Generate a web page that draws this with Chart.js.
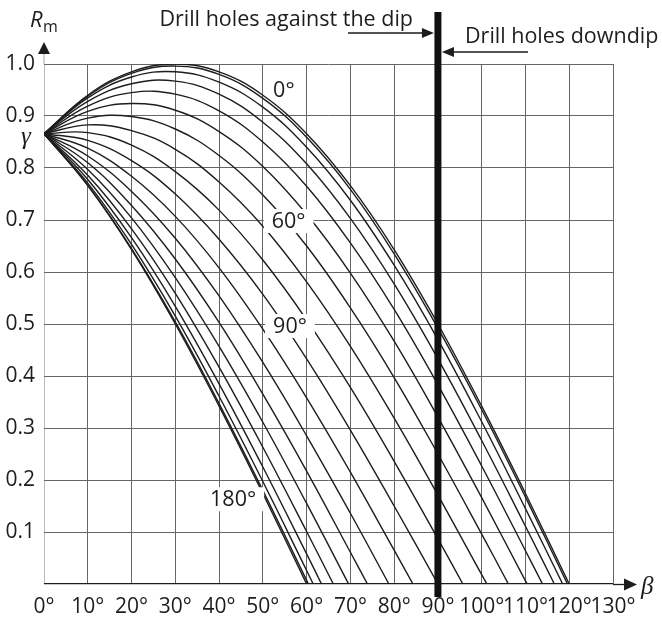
<!DOCTYPE html>
<html>
<head>
<meta charset="utf-8">
<script src="https://cdn.jsdelivr.net/npm/chart.js"></script>
<style>
  html, body { margin: 0; padding: 0; background: #fff; }
  #wrap { width: 662px; height: 626px; }
</style>
</head>
<body>
<div id="wrap"><canvas id="myChart" width="662" height="626"></canvas></div>
<script>
// beta (deg) sample points, curve parameter (deg) and Rm
const betas = [0, 10, 20, 30, 40, 50, 60, 70, 80, 90, 100, 110];
const alphas = [0, 10, 20, 30, 40, 50, 60, 70, 80, 90, 100, 110, 120, 130, 140, 150, 160, 170, 180];

const rm0   = [0.866, 0.940, 0.985, 1.000, 0.985, 0.940, 0.866, 0.766, 0.643, 0.500, 0.342, 0.174];
const rm10  = [0.866, 0.938, 0.982, 0.996, 0.980, 0.934, 0.859, 0.759, 0.635, 0.492, 0.335, 0.167];
const rm20  = [0.866, 0.935, 0.975, 0.985, 0.965, 0.917, 0.840, 0.738, 0.613, 0.470, 0.312, 0.145];
const rm30  = [0.866, 0.928, 0.962, 0.967, 0.942, 0.888, 0.808, 0.703, 0.577, 0.433, 0.276, 0.111];
const rm40  = [0.866, 0.919, 0.945, 0.942, 0.910, 0.850, 0.765, 0.656, 0.528, 0.383, 0.227, 0.064];
const rm50  = [0.866, 0.909, 0.924, 0.911, 0.870, 0.803, 0.711, 0.598, 0.467, 0.321, 0.166, 0.006];
const rm60  = [0.866, 0.896, 0.899, 0.875, 0.824, 0.748, 0.650, 0.531, 0.397, 0.250, 0.096];
const rm70  = [0.866, 0.883, 0.872, 0.836, 0.773, 0.688, 0.581, 0.457, 0.319, 0.171, 0.018];
const rm80  = [0.866, 0.868, 0.844, 0.793, 0.719, 0.623, 0.508, 0.378, 0.236, 0.087];
const rm90  = [0.866, 0.853, 0.814, 0.750, 0.663, 0.557, 0.433, 0.296, 0.150];
const rm100 = [0.866, 0.838, 0.784, 0.707, 0.608, 0.490, 0.358, 0.215, 0.065];
const rm110 = [0.866, 0.823, 0.755, 0.665, 0.554, 0.426, 0.285, 0.136];
const rm120 = [0.866, 0.810, 0.728, 0.625, 0.503, 0.365, 0.217, 0.061];
const rm130 = [0.866, 0.797, 0.704, 0.589, 0.457, 0.311, 0.155];
const rm140 = [0.866, 0.786, 0.683, 0.559, 0.417, 0.263, 0.101];
const rm150 = [0.866, 0.778, 0.666, 0.534, 0.385, 0.225, 0.058];
const rm160 = [0.866, 0.771, 0.653, 0.515, 0.361, 0.197, 0.026];
const rm170 = [0.866, 0.767, 0.645, 0.504, 0.347, 0.180, 0.007];
const rm180 = [0.866, 0.766, 0.643, 0.500, 0.342, 0.174];

// where each curve meets Rm = 0
const zeroCrossings = [120, 119.6, 118.5, 116.6, 113.9, 110.4, 106.1, 101.2, 95.7, 90,
                       84.3, 78.8, 73.9, 69.6, 66.1, 63.4, 61.5, 60.4, 60];

const curves = [rm0, rm10, rm20, rm30, rm40, rm50, rm60, rm70, rm80, rm90,
                rm100, rm110, rm120, rm130, rm140, rm150, rm160, rm170, rm180];

const gammaValue = 0.866;
const boundaryBeta = 90;
const xTicks = [0, 10, 20, 30, 40, 50, 60, 70, 80, 90, 100, 110, 120, 130];

const FONT = "'Open Sans', sans-serif";
const INK = '#1e1c1d';

const datasets = curves.map((vals, i) => {
    const pts = vals.map((v, j) => ({ x: betas[j], y: v }));
    pts.push({ x: zeroCrossings[i], y: 0 });
    return {
        label: alphas[i] + '°',
        data: pts,
        borderColor: INK,
        borderWidth: 1.4,
        pointRadius: 0,
        tension: 0.4,
        fill: false,
    };
});

// thick boundary line at beta = 90
datasets.unshift({
    label: 'boundary',
    data: [{ x: boundaryBeta, y: -0.025 }, { x: boundaryBeta, y: 1.1 }],
    borderColor: '#111',
    borderWidth: 7,
    pointRadius: 0,
    clip: false,
});

function arrowHead(ctx, tipX, tipY, dir, len, half) {
    ctx.beginPath();
    if (dir === 'up') {
        ctx.moveTo(tipX, tipY); ctx.lineTo(tipX - half, tipY + len); ctx.lineTo(tipX + half, tipY + len);
    } else if (dir === 'right') {
        ctx.moveTo(tipX, tipY); ctx.lineTo(tipX - len, tipY - half); ctx.lineTo(tipX - len, tipY + half);
    } else {
        ctx.moveTo(tipX, tipY); ctx.lineTo(tipX + len, tipY - half); ctx.lineTo(tipX + len, tipY + half);
    }
    ctx.closePath();
    ctx.fill();
}

const extras = {
    id: 'extras',
    afterDraw(chart) {
        const { ctx, chartArea: a, scales: { x, y } } = chart;
        ctx.save();
        ctx.fillStyle = INK;
        ctx.strokeStyle = INK;

        // axis extensions with arrows
        ctx.lineWidth = 1.3;
        ctx.beginPath();
        ctx.moveTo(a.right, a.bottom + 0.5); ctx.lineTo(626, a.bottom + 0.5);
        ctx.stroke();
        arrowHead(ctx, 637, a.bottom + 0.5, 'right', 13, 6);
        ctx.strokeStyle = '#bbb';
        ctx.beginPath();
        ctx.moveTo(a.left, a.top); ctx.lineTo(a.left, 54);
        ctx.stroke();
        arrowHead(ctx, a.left, 42, 'up', 12, 6);

        // axis names
        ctx.textBaseline = 'alphabetic';
        ctx.textAlign = 'left';
        ctx.font = 'italic 22px ' + FONT;
        ctx.fillText('R', 30, 27);
        ctx.font = '16px ' + FONT;
        ctx.fillText('m', 43, 32);
        ctx.font = "italic 25px 'Liberation Serif', serif";
        ctx.fillText('β', 641, 594);
        ctx.fillText('γ', y.getPixelForValue(gammaValue) > 0 ? 21 : 21, 144);

        // drill hole annotations
        const bx = x.getPixelForValue(boundaryBeta);
        ctx.font = '21.5px ' + FONT;
        ctx.textAlign = 'right';
        ctx.fillText('Drill holes against the dip', 413, 26);
        ctx.textAlign = 'left';
        ctx.fillText('Drill holes downdip', 465, 43);
        ctx.lineWidth = 1.5;
        ctx.strokeStyle = INK;
        ctx.beginPath();
        ctx.moveTo(348, 33); ctx.lineTo(bx - 12, 33);
        ctx.moveTo(bx + 14, 52); ctx.lineTo(528, 52);
        ctx.stroke();
        arrowHead(ctx, bx - 4, 33, 'right', 12, 5);
        arrowHead(ctx, bx + 4, 52, 'left', 12, 5);

        // curve labels on white patches
        const labels = [
            { t: '0°', bx: 54.8, r: 0.95, pad: false },
            { t: '60°', bx: 55.9, r: 0.698, pad: true },
            { t: '90°', bx: 56.2, r: 0.496, pad: true },
            { t: '180°', bx: 43.2, r: 0.163, pad: true },
        ];
        ctx.font = '21.5px ' + FONT;
        ctx.textAlign = 'center';
        ctx.textBaseline = 'middle';
        labels.forEach(l => {
            const px = x.getPixelForValue(l.bx);
            const py = y.getPixelForValue(l.r);
            const w = ctx.measureText(l.t).width;
            if (l.pad) {
                ctx.fillStyle = '#fff';
                ctx.fillRect(px - w / 2 - 8, py - 12, w + 16, 24);
            }
            ctx.fillStyle = INK;
            ctx.fillText(l.t, px, py + 1);
        });
        ctx.restore();
    }
};

const config = {
    type: 'line',
    data: { datasets: datasets },
    options: {
        responsive: false,
        animation: false,
        events: [],
        layout: { padding: { top: 64, right: 49, left: 0, bottom: 0 } },
        plugins: { legend: false, tooltip: false },
        scales: {
            x: {
                type: 'linear',
                min: 0,
                max: 130,
                afterBuildTicks: (s) => { s.ticks = xTicks.map(v => ({ value: v })); },
                afterFit: (s) => { s.height = 42; },
                grid: {
                    color: (c) => c.tick && c.tick.value === 0 ? '#bbb' : '#666',
                    lineWidth: 1,
                    drawTicks: false,
                },
                border: { display: false },
                ticks: {
                    color: INK,
                    padding: 10,
                    maxRotation: 0,
                    autoSkip: false,
                    font: { family: FONT, size: 21 },
                    callback: (v) => v + '°',
                },
            },
            y: {
                min: 0,
                max: 1,
                afterFit: (s) => { s.width = 44; },
                grid: {
                    color: (c) => c.tick && c.tick.value === 0 ? INK : '#666',
                    lineWidth: (c) => c.tick && c.tick.value === 0 ? 1.3 : 1,
                    drawTicks: false,
                },
                border: { display: false },
                ticks: {
                    stepSize: 0.1,
                    color: INK,
                    padding: 9,
                    font: { family: FONT, size: 21 },
                    callback: (v) => v < 0.05 ? '' : v.toFixed(1),
                },
            },
        },
    },
    plugins: [extras],
};

const myChart = new Chart(document.getElementById('myChart'), config);
</script>
</body>
</html>
